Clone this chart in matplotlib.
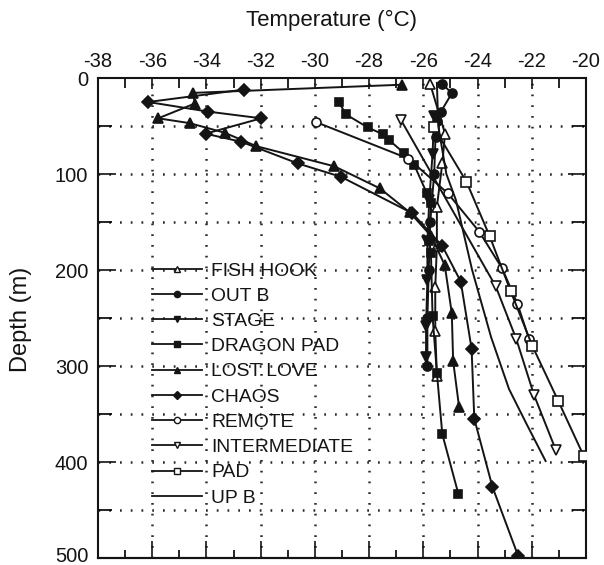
import matplotlib
matplotlib.use('Agg')
import matplotlib.pyplot as plt
from matplotlib.lines import Line2D
import matplotlib.transforms as mtransforms
import numpy as np

plt.rcParams['font.family'] = ['Liberation Sans', 'DejaVu Sans']
plt.rcParams['axes.unicode_minus'] = False

# ---- data: depth (m) and temperature (degC) per borehole ----
fish_hook_d = [6, 58, 89, 134, 175, 218, 264, 310]
fish_hook_t = [-25.75, -25.2, -25.3, -25.5, -25.5, -25.56, -25.56, -25.5]

out_b_d = [6, 16, 35, 45, 61, 100, 150, 200, 250, 300]
out_b_t = [-25.3, -24.95, -25.35, -25.5, -25.55, -25.6, -25.75, -25.8, -25.85, -25.85]

stage_d = [40, 79, 127, 170, 210, 258, 291]
stage_t = [-25.6, -25.66, -25.78, -25.85, -25.85, -25.9, -25.9]

dragon_pad_d = [25, 38, 51.5, 58.5, 65, 78.5, 91, 120, 130, 170, 182, 248, 307, 371, 433]
dragon_pad_t = [-29.12, -28.85, -28.05, -27.5, -27.25, -26.7, -26.33, -25.87, -25.72,
                -25.78, -25.72, -25.66, -25.5, -25.3, -24.71]

lost_love_d = [7, 15.5, 26.6, 42, 47, 57, 71, 92, 115, 140, 165, 195, 245, 295, 343]
lost_love_t = [-26.8, -34.49, -34.43, -35.78, -34.62, -33.33, -32.16, -29.28, -27.6,
               -26.5, -25.7, -25.21, -24.95, -24.9, -24.68]

chaos_d = [12, 25, 35, 42, 58, 66.5, 89, 103, 141, 175, 212, 282, 355, 426, 498]
chaos_t = [-32.6, -36.15, -33.94, -31.98, -34.03, -32.71, -30.63, -29.03, -26.4,
           -25.3, -24.62, -24.22, -24.12, -23.45, -22.5]

remote_d = [46, 84, 120, 160, 198, 235, 272]
remote_t = [-29.95, -26.55, -25.1, -23.94, -23.1, -22.53, -22.1]

intermediate_d = [44, 217, 272, 330, 387]
intermediate_t = [-26.82, -23.33, -22.57, -21.92, -21.12]

pad_d = [51, 108, 165, 222, 279, 336, 394]
pad_t = [-25.62, -24.41, -23.55, -22.78, -21.98, -21.03, -20.08]

up_b_d = [5, 50, 100, 127, 200, 270, 324, 360, 399]
up_b_t = [-25.5, -25.45, -25.15, -24.8, -24.2, -23.5, -22.84, -22.2, -21.49]

names = ['FISH HOOK', 'OUT B', 'STAGE', 'DRAGON PAD', 'LOST LOVE', 'CHAOS',
         'REMOTE', 'INTERMEDIATE', 'PAD', 'UP B']
depths = [fish_hook_d, out_b_d, stage_d, dragon_pad_d, lost_love_d, chaos_d,
          remote_d, intermediate_d, pad_d, up_b_d]
temps = [fish_hook_t, out_b_t, stage_t, dragon_pad_t, lost_love_t, chaos_t,
         remote_t, intermediate_t, pad_t, up_b_t]

x_ticks = [-38, -36, -34, -32, -30, -28, -26, -24, -22, -20]
y_ticks = [0, 100, 200, 300, 400, 500]

# ---- styles ----
ink = '#141414'
styles = {
    'FISH HOOK':    dict(marker='^', mfc='white', ms=6.5),
    'OUT B':        dict(marker='o', mfc=ink, ms=6.5),
    'STAGE':        dict(marker='v', mfc=ink, ms=6.5),
    'DRAGON PAD':   dict(marker='s', mfc=ink, ms=6),
    'LOST LOVE':    dict(marker='^', mfc=ink, ms=6.5),
    'CHAOS':        dict(marker='D', mfc=ink, ms=6),
    'REMOTE':       dict(marker='o', mfc='white', ms=6.5),
    'INTERMEDIATE': dict(marker='v', mfc='white', ms=7),
    'PAD':          dict(marker='s', mfc='white', ms=6.5),
    'UP B':         dict(marker=None, mfc=ink, ms=0),
}

W, H = 604, 565
fig = plt.figure(figsize=(W / 100, H / 100), dpi=100)
L, R, T, B = 98, 586, 78, 558
ax = fig.add_axes([L / W, 1 - B / H, (R - L) / W, (B - T) / H])

ax.set_xlim(-38, -20)
ax.set_ylim(500, 0)

# grid (dotted)
grid_kw = dict(color='#2a2a2a', linewidth=1.8, linestyle=(0, (0.7, 3.6)))
for gx in np.arange(-36, -21, 2):
    ax.axvline(gx, zorder=0, **grid_kw)
for gy in np.arange(50, 500, 50):
    ax.axhline(gy, zorder=0, **grid_kw)

for n, d, t in zip(names, depths, temps):
    st = styles[n]
    ax.plot(t, d, color=ink, lw=1.4, marker=st['marker'], ms=st['ms'],
            mfc=st['mfc'], mec=ink, mew=1.2, zorder=3)

# axes ticks
ax.xaxis.tick_top()
ax.set_xticks(x_ticks)
ax.set_xticklabels([str(v) for v in x_ticks])
ax.set_xticks(np.arange(-38, -19, 1), minor=True)
ax.tick_params(axis='x', which='major', direction='in', length=8, width=1.2,
               top=True, bottom=False, labeltop=True, labelbottom=False,
               pad=5, labelsize=14.5, colors=ink)
ax.tick_params(axis='x', which='minor', direction='in', length=7, width=1.2,
               top=True, bottom=False)

sec = ax.secondary_xaxis('bottom')
sec.set_xticks(x_ticks)
sec.set_xticks(np.arange(-38, -19, 1), minor=True)
sec.set_xticklabels([])
sec.tick_params(axis='x', which='major', direction='in', length=12, width=1.2, colors=ink)
sec.tick_params(axis='x', which='minor', direction='in', length=6, width=1.2)
sec.spines['bottom'].set_linewidth(1.5)

ax.set_yticks(y_ticks)
ax.set_yticklabels([str(v) for v in y_ticks])
ax.set_yticks(np.arange(0, 501, 50), minor=True)
ax.tick_params(axis='y', which='major', direction='in', length=13, width=1.2,
               left=True, right=True, pad=7, labelsize=14.5, colors=ink)
ax.tick_params(axis='y', which='minor', direction='in', length=10, width=1.2,
               left=True, right=True)

# nudge the bottom-most depth label up slightly so it stays inside the canvas
last_lbl = ax.get_yticklabels()[-1]
last_lbl.set_transform(last_lbl.get_transform() +
                       mtransforms.ScaledTranslation(0, 3 / 100, fig.dpi_scale_trans))

for sp in ax.spines.values():
    sp.set_linewidth(1.5)
    sp.set_color(ink)

fig.text(332 / W, 1 - 20 / H, 'Temperature (°C)', ha='center', va='center',
         fontsize=16, color=ink)
fig.text(21 / W, 1 - 319 / H, 'Depth (m)', rotation=90, ha='center', va='center',
         fontsize=17, color=ink)

handles = []
for n in names:
    st = styles[n]
    handles.append(Line2D([], [], color=ink, lw=1.3, marker=st['marker'],
                          ms=(4.5 if st['marker'] else 0), mfc=st['mfc'], mec=ink, mew=1.0))
leg = ax.legend(handles, names, loc='upper left',
                bbox_to_anchor=(152 / W, 1 - 262 / H), bbox_transform=fig.transFigure,
                frameon=False, fontsize=13.9, handlelength=2.6, handletextpad=0.45,
                labelspacing=0.40, borderpad=0, borderaxespad=0)
for txt in leg.get_texts():
    txt.set_color(ink)

fig.savefig('out.png', dpi=100)
